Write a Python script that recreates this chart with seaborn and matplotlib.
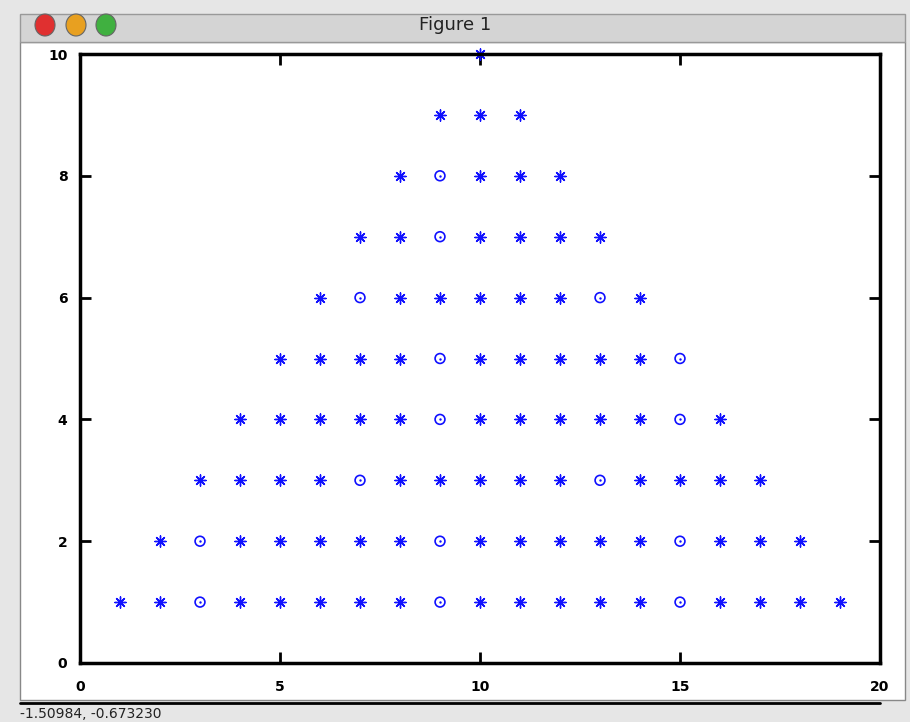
import matplotlib
matplotlib.use("Agg")
import pandas as pd
import seaborn as sns
import matplotlib.pyplot as plt
from matplotlib.patches import Ellipse

# asterisk points per row (y value -> x values)
star_y1 = [1, 2, 4, 5, 6, 7, 8, 10, 11, 12, 13, 14, 16, 17, 18, 19]
star_y2 = [2, 4, 5, 6, 7, 8, 10, 11, 12, 13, 14, 16, 17, 18]
star_y3 = [3, 4, 5, 6, 8, 9, 10, 11, 12, 14, 15, 16, 17]
star_y4 = [4, 5, 6, 7, 8, 10, 11, 12, 13, 14, 16]
star_y5 = [5, 6, 7, 8, 10, 11, 12, 13, 14]
star_y6 = [6, 8, 9, 10, 11, 12, 14]
star_y7 = [7, 8, 10, 11, 12, 13]
star_y8 = [8, 10, 11, 12]
star_y9 = [9, 10, 11]
star_y10 = [10]

# circle points per row
circ_y1 = [3, 9, 15]
circ_y2 = [3, 9, 15]
circ_y3 = [7, 13]
circ_y4 = [9, 15]
circ_y5 = [9, 15]
circ_y6 = [7, 13]
circ_y7 = [9]
circ_y8 = [9]

x_ticks = [0, 5, 10, 15, 20]
y_ticks = [0, 2, 4, 6, 8, 10]

star_rows = [star_y1, star_y2, star_y3, star_y4, star_y5,
             star_y6, star_y7, star_y8, star_y9, star_y10]
circ_rows = [circ_y1, circ_y2, circ_y3, circ_y4, circ_y5,
             circ_y6, circ_y7, circ_y8]

stars = pd.DataFrame([(x, i + 1) for i, r in enumerate(star_rows) for x in r],
                     columns=["x", "y"])
circles = pd.DataFrame([(x, i + 1) for i, r in enumerate(circ_rows) for x in r],
                       columns=["x", "y"])

sns.set_style("white")
fig = plt.figure(figsize=(9.1, 7.22), dpi=100, facecolor="#e6e6e6")

# window look: white client area, title bar (behind the axes)
fig.add_artist(plt.Rectangle((20 / 910, 1 - 700 / 722), 885 / 910, 658 / 722,
                             transform=fig.transFigure, facecolor="white",
                             edgecolor="#888888", lw=1, zorder=-2))
fig.add_artist(plt.Rectangle((20 / 910, 1 - 42 / 722), 885 / 910, 28 / 722,
                             transform=fig.transFigure, facecolor="#d4d4d4",
                             edgecolor="#999999", lw=1, zorder=-2))
fig.text(0.5, 1 - 25 / 722, "Figure 1", ha="center", va="center",
         fontsize=13, color="#222222")
for cx, col in [(45, "#e03030"), (76, "#e8a020"), (106, "#40b040")]:
    fig.add_artist(Ellipse((cx / 910, 1 - 25 / 722), 20 / 910, 22 / 722,
                           transform=fig.transFigure, facecolor=col,
                           edgecolor="#666666", lw=0.8, zorder=-1))
fig.add_artist(plt.Line2D([20 / 910, 880 / 910], [1 - 703 / 722, 1 - 703 / 722],
                          transform=fig.transFigure, color="black", lw=2,
                          zorder=-1))
fig.text(20 / 910, 1 - 714 / 722, "-1.50984, -0.673230", ha="left",
         va="center", fontsize=10, color="#222222")

ax = fig.add_axes([80 / 910, 1 - 663 / 722, 800 / 910, 609 / 722])

sns.scatterplot(data=stars, x="x", y="y", marker=(8, 2, 0), s=65,
                color="#1010ff", linewidth=1.0, ax=ax, legend=False,
                clip_on=False)
sns.scatterplot(data=circles, x="x", y="y", marker="o", s=50,
                facecolors="none", edgecolor="#1010ff", linewidth=1.2,
                ax=ax, legend=False)
sns.scatterplot(data=circles, x="x", y="y", marker="o", s=3,
                color="#1010ff", linewidth=0, ax=ax, legend=False)

ax.set_xlim(0, 20)
ax.set_ylim(0, 10)
ax.set_xticks(x_ticks)
ax.set_yticks(y_ticks)
ax.set_xlabel("")
ax.set_ylabel("")
for sp in ax.spines.values():
    sp.set_linewidth(2.5)
    sp.set_color("black")
    sp.set_visible(True)
ax.tick_params(direction="in", length=8, width=2, top=True, right=True,
               bottom=True, left=True, labelsize=10, colors="black")
ax.tick_params(axis="x", pad=12)
ax.tick_params(axis="y", pad=9)
for lab in ax.get_xticklabels() + ax.get_yticklabels():
    lab.set_fontweight("bold")
ax.set_facecolor("white")

fig.savefig("out.png", dpi=100, facecolor=fig.get_facecolor())
